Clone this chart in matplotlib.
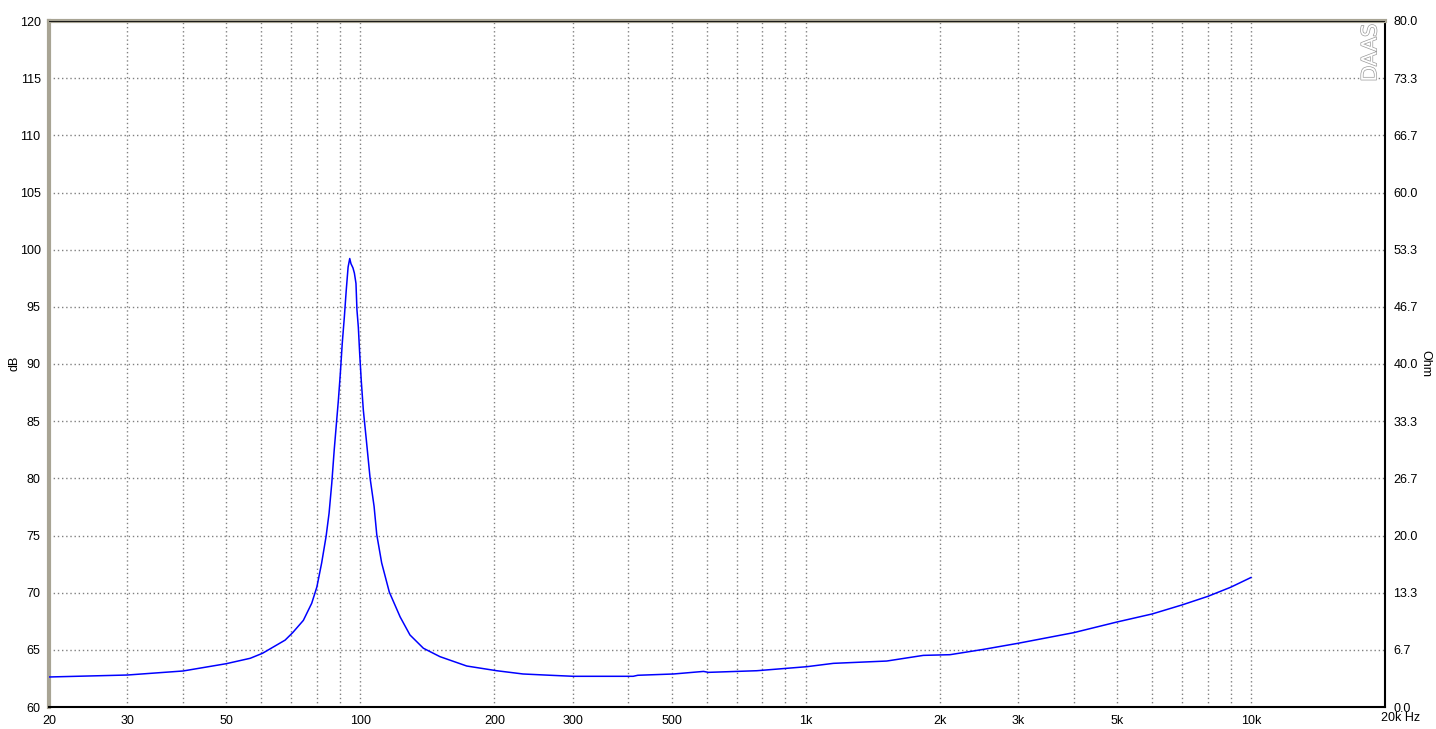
import matplotlib.pyplot as plt
import matplotlib.patheffects as pe
from matplotlib.ticker import FixedLocator, NullLocator, NullFormatter

# impedance curve (Hz, Ohm)
freq = [20, 30, 40, 50, 56.6, 60.3, 67.8, 70.5, 74.5, 77.8, 79.9, 81.9, 83.8,
        85.1, 86.3, 87.4, 89.3, 90.2, 91.1, 92.1, 93.0, 93.9, 94.7, 95.3, 96.3,
        97.0, 97.8, 98.3, 99.0, 99.7, 100.5, 101.6, 103.2, 105.2, 107.4, 108.9,
        111.7, 116.2, 122.9, 129.3, 138.6, 151, 173.4, 202.5, 232, 267, 301,
        410, 420, 505, 590, 605, 777, 1006, 1154, 1521, 1838, 2110, 2508, 3000,
        4000, 5000, 6000, 7000, 8000, 9000, 10000]
ohm = [3.5, 3.73, 4.2, 5.05, 5.68, 6.26, 7.8, 8.67, 10.1, 12.1, 14.0, 16.8, 19.9,
       22.6, 26.1, 30.0, 35.8, 38.9, 42.4, 45.5, 48.6, 51.3, 52.3, 51.7, 51.2,
       50.6, 49.4, 46.3, 44.3, 41.2, 38.1, 34.6, 31.1, 26.7, 23.4, 20.1,
       16.8, 13.4, 10.5, 8.4, 6.85, 5.87, 4.78, 4.23, 3.85, 3.70, 3.58,
       3.58, 3.70, 3.85, 4.15, 4.04, 4.23, 4.70, 5.09, 5.36, 6.02, 6.1, 6.72, 7.43,
       8.67, 9.91, 10.85, 11.9, 12.9, 13.96, 15.1]

x_labels = {20: "20", 30: "30", 50: "50", 100: "100", 200: "200", 300: "300",
            500: "500", 1000: "1k", 2000: "2k", 3000: "3k", 5000: "5k", 10000: "10k"}
db_ticks = list(range(60, 121, 5))
ohm_ticks = [0.0, 6.7, 13.3, 20.0, 26.7, 33.3, 40.0, 46.7, 53.3, 60.0, 66.7, 73.3, 80.0]

plt.rcParams['font.family'] = ['Liberation Sans', 'DejaVu Sans']
fig = plt.figure(figsize=(14.36, 7.29), dpi=100)
ax = fig.add_axes([49/1436, 1 - 707/729, (1385-49)/1436, (707-21)/729])
ax.set_xscale('log')
ax.set_xlim(20, 20000)
ax.set_ylim(60, 120)

grid_x = [m * 10**d for d in range(1, 4) for m in range(1, 10) if m * 10**d >= 20] + [10000]
ax.xaxis.set_major_locator(FixedLocator(grid_x))
ax.xaxis.set_minor_locator(NullLocator())
ax.xaxis.set_minor_formatter(NullFormatter())
ax.set_xticklabels([x_labels.get(v, "") for v in grid_x])
ax.set_yticks(db_ticks)
ax.grid(True, color='#808080', linestyle=(0, (1, 2)), linewidth=1)
ax.tick_params(length=0, labelsize=9, pad=6)
ax.text(1381/1436, 1 - 712/729, "20k Hz", transform=fig.transFigure, ha='left', va='top', fontsize=9)
fig.text(14/1436, 1 - 363/729, "dB", rotation=90, ha='center', va='center', fontsize=9)
fig.text(1425/1436, 1 - 363/729, "Ohm", rotation=-90, ha='center', va='center', fontsize=9)

for s in ['left', 'top']:
    ax.spines[s].set_color('#a8a494')
    ax.spines[s].set_linewidth(3)
for s in ['right', 'bottom']:
    ax.spines[s].set_color('black')
    ax.spines[s].set_linewidth(1.5)
ax.axhline(120, color='black', lw=1.2, zorder=5)

ax2 = ax.twinx()
ax2.set_ylim(0, 80)
ax2.set_yticks(ohm_ticks)
ax2.set_yticklabels(["%.1f" % v for v in ohm_ticks])
ax2.tick_params(length=0, labelsize=9, pad=6)
ax2.plot(freq, ohm, color='#0000ff', linewidth=1.1)
for s in ax2.spines.values():
    s.set_visible(False)

ax.text(0.9965, 0.996, "DAAS", transform=ax.transAxes, rotation=90, ha='right', va='top',
        fontsize=15, color='white', fontfamily='DejaVu Sans',
        path_effects=[pe.withStroke(linewidth=1.0, foreground='#9a9a9a')])

fig.savefig("out.png", dpi=100, facecolor='white')
